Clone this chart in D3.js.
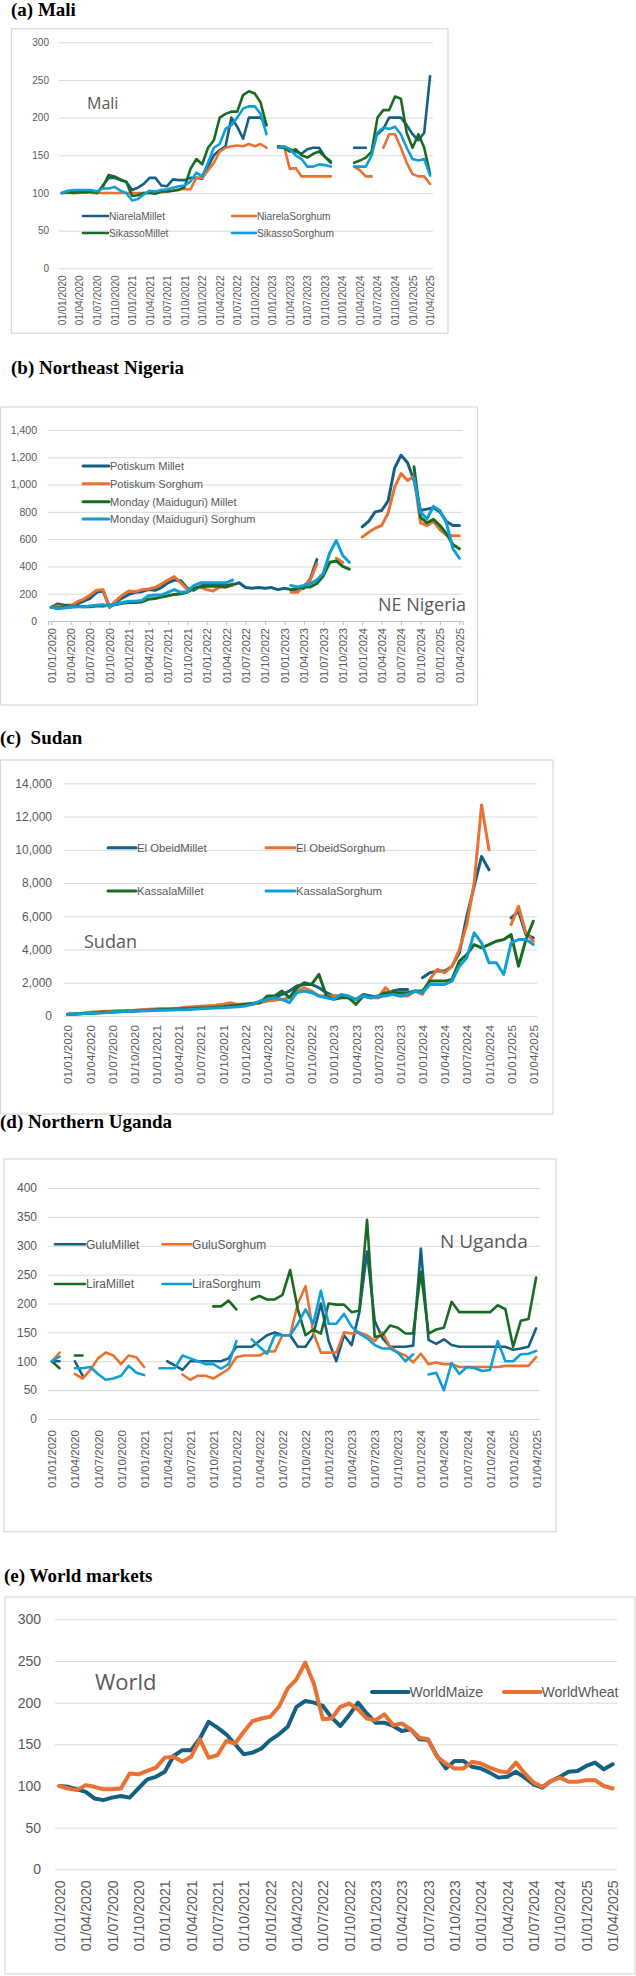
<!DOCTYPE html>
<html><head><meta charset="utf-8">
<script src="https://cdn.jsdelivr.net/npm/d3@7"></script>
<style>body{margin:0;background:#fff} svg{display:block}</style>
</head><body>
<svg id="c" width="636" height="1976"></svg>
<script>
// ---------- categories ----------
const monthIndex = d3.range(64); // Jan 2020 .. Apr 2025, monthly
const xTickLabels = ["01/01/2020","01/04/2020","01/07/2020","01/10/2020","01/01/2021","01/04/2021","01/07/2021","01/10/2021","01/01/2022","01/04/2022","01/07/2022","01/10/2022","01/01/2023","01/04/2023","01/07/2023","01/10/2023","01/01/2024","01/04/2024","01/07/2024","01/10/2024","01/01/2025","01/04/2025"];
const N = null;

// ---------- (a) Mali ----------
const maliNames = ["NiarelaMillet","NiarelaSorghum","SikassoMillet","SikassoSorghum"];
const maliNiarelaMillet = [100,101,102,102,102,102, 100,110,120,120,117,115, 104,107,112,120,120,110, 109,118,117,117,120,120, 119,135,150,157,162,200, 188,172,200,200,200,190, N, 160,160,158,155,152,158,160,160,148,140, N,N,N, 160,160,160, N, 178,185,200,200,200,190,178,170,180,255];
const maliNiarelaSorghum = [100,100,100,100,101,100, 100,100,100,100,100,100, 100,100,100,100,102,101, 102,103,105,105,105,120, 120,130,140,155,160,162, 163,162,165,162,165,160, N, 162,162,132,133,122,122,122,122,122,122, N,N,N, 135,130,122,122, N, 160,178,178,160,140,125,122,122,112];
const maliSikassoMillet = [100,101,100,101,101,102, 100,108,124,122,118,115, 96,97,100,100,99,102, 102,103,104,108,132,145, 138,160,170,200,205,208, 208,230,235,232,220,190, N, 162,160,155,158,150,147,152,155,148,142, N,N,N, 140,143,147,155,200,210,210,228,225,180,160,178,160,125];
const maliSikassoSorghum = [100,103,104,104,104,104, 102,106,106,108,103,100, 90,92,98,103,102,104, 105,107,109,110,115,127, 122,140,160,165,185,190, 200,212,215,215,205,178, N, 160,162,158,150,145,135,135,138,137,135, N,N,N, 135,135,135,150,180,187,185,188,178,160,145,143,145,123];

// ---------- (b) NE Nigeria ----------
const nigNames = ["Potiskum Millet","Potiskum Sorghum","Monday (Maiduguri) Millet","Monday (Maiduguri) Sorghum"];
const nigPotiskumMillet = [100,125,115,115,125,145, 165,210,220,100,140,170, 195,210,215,230,225,245, 280,300,295,240,225,255, 270,265,270,260,265,280, 245,240,245,240,245,230, 240,230,230,240,310,450, N,N,N,N,N,N, 690,730,800,810,880,1120, 1215,1160,1030,810,820,830, 800,730,700,700];
const nigPotiskumSorghum = [100,110,100,110,140,160, 190,225,230,100,150,190, 220,215,230,235,245,270, 300,325,280,230,240,250, 230,220,250,250,260,N, N,N,N,N,N,N,N, 210,210,260,300,420, N,N, 460,430, N,N, 615,650,680,700,790,980, 1080,1030,1060,720,700,730, 670,630,625,625];
const nigMondayMillet = [100,95,100,105,110,105, 105,110,110,115,120,130, 135,135,140,160,165,175, 185,195,200,210,240,250, 255,255,255,250,270, N,N,N,N,N,N,N,N, 230,240,250,250,275,330,430,440,400,380, N,N,N,N,N,N,N,N,N, 1130,760,720,745,700,640,560,530];
const nigMondaySorghum = [100,90,95,100,105,105, 110,115,120,110,125,135, 145,145,150,185,190,190, 210,230,210,215,260,280, 280,280,280,280,300, N,N,N,N,N,N,N,N, 260,250,260,275,300,350,500,590,480,430, N,N,N,N,N,N,N,N,N, 1050,800,750,840,810,720,530,460];

// ---------- (c) Sudan ----------
const sudNames = ["El ObeidMillet","El ObeidSorghum","KassalaMillet","KassalaSorghum"];
const sudElObeidMillet = [100,120,150,180,200,230, 250,280,300,320,350,380, 400,420,430,450,480,500, 520,550,580,600,620,650, 680,750,850,1000,1100,1300, 1500,1800,1900,1900,1700,1400, 1200,1200,1100,1000,1300,1200, 1100,1300,1500,1600,1600, N, 2300,2600,2700,2700,3000,3800,6000,7800,9600,8800, N,N, 5900,6300,4900,4700];
const sudElObeidSorghum = [100,130,160,220,260,290, 300,320,330,350,380,400, 420,440,450,470,520,550, 580,620,650,700,800,700, 700,700,800,900,950,1000, 1100,1500,1700,1500,1200,1200, 1200,1200,1100,1000,1200,1100, 1100,1700,1300,1200,1200,1500, 1300,2200,2800,2600,3000,4000,5500,8000,12700,10000, N,N, 5500,6600,5000,4500];
const sudKassalaMillet = [100,120,150,170,200,220, 240,260,280,300,320,350, 370,390,400,420,440,450, 480,500,520,550,600,650, 700,750,800,1200,1200,1500, 1100,1700,2000,1900,2500,1200, 1000,1100,1100,700,1200,1100, 1200,1400,1400,1400,1400,1500, 1500,2100,2100,2100,2200,3300, 3700,4300,4100,4300,4500,4600, 4900,3000,4600,5700];
const sudKassalaSorghum = [100,120,140,160,180,200, 230,250,270,300,320,320, 340,350,360,370,380,400, 430,460,480,500,520,550, 600,700,900,1000,1100,1000, 800,1400,1500,1400,1200,1100, 1000,1300,1200,1000,1200,1100, 1200,1200,1300,1200,1300,1500, 1400,1900,1900,1900,2100,3000, 3500,5000,4400,3200,3200,2500, 4400,4600,4600,4300];

// ---------- (d) N Uganda ----------
const ugNames = ["GuluMillet","GuluSorghum","LiraMillet","LiraSorghum"];
const ugGuluMillet = [100,100, N, 100,75, N,N,N,N,N,N,N,N,N,N, 100,93,85,100,100,100, 100,100,105,125,125,125, 135,145,150,145,145,125, 125,145,200,135,100,145, 128,185,290,170,140,125, 125,125,127,295,137,130, 138,128,125,125,125,125, 125,125,125,120,122,125,157];
const ugGuluSorghum = [100,115, N, 78,70,85,105,115,110,95,110,107,90, N,N,N,N, 77,68,75,75,70,78, 87,107,110,110,110,117,117, 145,145,200,230,150,115, 115,115,150,148,150,145, 135,150,125,115,110,98, 113,95,98,95,95,90, 90,90,90,90,90,92, 92,92,92,107];
const ugLiraMillet = [100,88, N, 110,110, N,N,N,N,N,N,N,N,N,N,N,N,N,N,N,N, 195,195,205,190, N, 207,213,207,207,215,258, 190,145,155,148,200,198, 198,185,188,345,142,145, 162,158,148,148,255,148, 155,158,203,185,185,185, 185,185,197,190,125,170, 173,245];
const ugLiraSorghum = [100,108, N, 88,88,90,78,68,70,75,92,80,76, N, 88,88,88,110,105,100,95,95,87,95,135, N, 138,125,113,145,145,145, 165,190,165,222,165,165, 182,160,148,140,128,122, 122,115,100,112, N, 77,80,50,97,78,90, 88,83,85,135,100, 100,112,113,118];

// ---------- (e) World markets ----------
const worldNames = ["WorldMaize","WorldWheat"];
const worldMaize = [100,99,96,93,85,83, 86,88,86,97,108,111, 117,136,143,143,157,177, 170,162,150,138,140,145, 155,162,171,195,202,200, 196,182,172,185,200,187, 176,176,172,166,168,156, 155,136,121,130,130,123, 121,116,110,111,117,110, 102,98,106,111,117,118, 124,128,120,126];
const worldWheat = [100,97,95,101,99,96, 96,97,115,114,118,122, 134,135,129,135,156,134, 137,154,151,165,178,181, 183,195,217,228,248,222, 180,181,195,199,192,181, 179,186,173,175,168,158, 156,135,127,121,121,129, 127,122,118,116,128,115, 104,99,106,110,105,105, 107,107,100,97];

const seriesColors = ["#156082","#E97132","#196B24","#0F9ED5"];

// ---------- layout ----------
const panels = [
  { title:"(a) Mali", tx:11, ty:16,
    box:[11.5,28.7,448,333.3], px:[59,433], py:[268.3,42.3], ymax:300, ystep:50, yfmt:d3.format("d"),
    yLabelX:49, tickFont:10, xFont:10, xGap:7, lw:2.6, xTicks:false,
    label:"Mali", lx:87, ly:103, lfont:16,
    names:maliNames, data:[maliNiarelaMillet,maliNiarelaSorghum,maliSikassoMillet,maliSikassoSorghum],
    legFont:10.2, leg:[[83,216,25],[232,216,24],[83,233,25],[232,233,24]] },
  { title:"(b) Northeast Nigeria", tx:11, ty:374,
    box:[0.5,407,477.6,705], px:[48,462.6], py:[621,430], ymax:1400, ystep:200, yfmt:d3.format(","),
    yLabelX:37, tickFont:10.5, xFont:11, xGap:7, lw:3, xTicks:true,
    label:"NE Nigeria", lx:378, ly:605, lfont:18,
    names:nigNames, data:[nigPotiskumMillet,nigPotiskumSorghum,nigMondayMillet,nigMondaySorghum],
    legFont:11, leg:[[83,466,26],[83,483.7,26],[83,501.7,26],[83,519,26]] },
  { title:"(c)  Sudan", tx:0, ty:744,
    box:[0.5,760,553,1114], px:[64,537], py:[1016,783.3], ymax:14000, ystep:2000, yfmt:d3.format(","),
    yLabelX:52, tickFont:12, xFont:11.8, xGap:9, lw:3, xTicks:false,
    label:"Sudan", lx:84, ly:942, lfont:18,
    names:sudNames, data:[sudElObeidMillet,sudElObeidSorghum,sudKassalaMillet,sudKassalaSorghum],
    legFont:11.3, leg:[[108,847.7,28],[266,847.7,29],[108,891,28],[266,891,29]] },
  { title:"(d) Northern Uganda", tx:0, ty:1128,
    box:[4,1159,556,1531.7], px:[48,540], py:[1419,1188], ymax:400, ystep:50, yfmt:d3.format("d"),
    yLabelX:37, tickFont:12, xFont:11.6, xGap:11, lw:2.6, xTicks:false,
    label:"N Uganda", lx:440, ly:1241, lfont:19,
    names:ugNames, data:[ugGuluMillet,ugGuluSorghum,ugLiraMillet,ugLiraSorghum],
    legFont:12, leg:[[55,1244.3,30],[162.6,1244.3,28.5],[55,1284,30],[162.6,1284,28.5]] },
  { title:"(e) World markets", tx:4, ty:1582,
    box:[5,1597,635,1974], px:[55,617], py:[1869.3,1619.3], ymax:300, ystep:50, yfmt:d3.format("d"),
    yLabelX:41, tickFont:14, xFont:14.2, xGap:11, lw:4, xTicks:false,
    label:"World", lx:95, ly:1682, lfont:22,
    names:worldNames, data:[worldMaize,worldWheat],
    legFont:14, leg:[[372,1692,36.5],[504,1692,36.6]] }
];

const svg = d3.select("#c");
const FONT = "'Liberation Sans', Arial, sans-serif";
const GRID = "#d9d9d9", TXT = "#595959";

panels.forEach(p => {
  const g = svg.append("g");
  g.append("text").attr("x", p.tx).attr("y", p.ty)
    .attr("font-family","'Liberation Serif','Times New Roman',serif")
    .attr("font-weight","bold").attr("font-size",19).attr("fill","#000")
    .style("white-space","pre").text(p.title);
  g.append("rect").attr("x",p.box[0]).attr("y",p.box[1])
    .attr("width",p.box[2]-p.box[0]).attr("height",p.box[3]-p.box[1])
    .attr("fill","#fff").attr("stroke",GRID).attr("stroke-width",1.2);

  const x = d3.scalePoint().domain(monthIndex).range(p.px).padding(0.5);
  const y = d3.scaleLinear().domain([0,p.ymax]).range(p.py);
  const yTicks = d3.range(0, p.ymax + 1, p.ystep);

  const ya = g.append("g").attr("transform",`translate(${p.px[0]},0)`)
    .call(d3.axisLeft(y).tickValues(yTicks).tickFormat(p.yfmt)
      .tickSize(-(p.px[1]-p.px[0])).tickPadding(p.px[0]-p.yLabelX));
  ya.select(".domain").remove();
  ya.selectAll("line").attr("stroke",GRID).attr("stroke-width",1);
  ya.selectAll("text").attr("fill",TXT).attr("font-family",FONT).attr("font-size",p.tickFont);

  const xa = g.append("g").attr("transform",`translate(0,${p.py[0]})`)
    .call(d3.axisBottom(x).tickValues(monthIndex.filter(i => i % 3 === 0))
      .tickFormat(i => xTickLabels[i/3]).tickSize(p.xTicks ? 4 : 0));
  xa.select(".domain").attr("stroke", p.xTicks ? "#bfbfbf" : "none");
  xa.selectAll("line").attr("stroke", "#bfbfbf");
  xa.selectAll("text").attr("fill",TXT).attr("font-family",FONT).attr("font-size",p.xFont)
    .attr("transform","rotate(-90)").attr("text-anchor","end")
    .attr("x",-p.xGap).attr("y",0).attr("dy","0.35em");

  g.append("text").attr("x",p.lx).attr("y",p.ly).attr("dy","0.35em")
    .attr("font-family","'Open Sans','Noto Sans',sans-serif").attr("font-size",p.lfont)
    .attr("fill",TXT).text(p.label);

  p.leg.forEach((L,i) => {
    g.append("line").attr("x1",L[0]).attr("x2",L[0]+L[2]).attr("y1",L[1]).attr("y2",L[1])
      .attr("stroke",seriesColors[i]).attr("stroke-width",p.lw).attr("stroke-linecap","round");
    g.append("text").attr("x",L[0]+L[2]+1).attr("y",L[1]).attr("dy","0.35em")
      .attr("font-family",FONT).attr("font-size",p.legFont).attr("fill",TXT).text(p.names[i]);
  });

  const line = d3.line().defined(d => d[1] != null).x(d => x(d[0])).y(d => y(d[1]));
  p.data.forEach((arr,i) => {
    g.append("path").datum(arr.map((v,k) => [k,v]))
      .attr("d", line).attr("fill","none").attr("stroke",seriesColors[i])
      .attr("stroke-width",p.lw).attr("stroke-linejoin","round").attr("stroke-linecap","round");
  });
});
</script>
</body></html>
